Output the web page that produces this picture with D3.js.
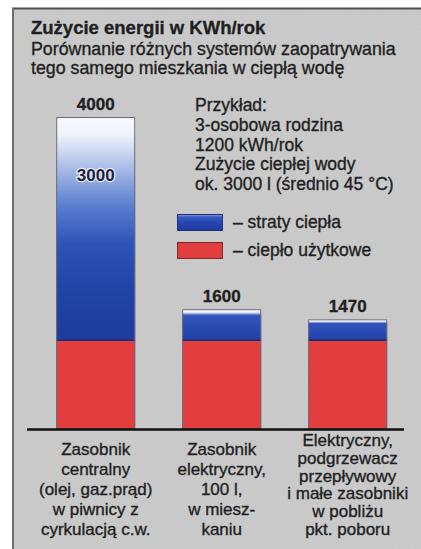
<!DOCTYPE html>
<html><head><meta charset="utf-8">
<script src="https://cdn.jsdelivr.net/npm/d3@7"></script>
<style>html,body{margin:0;padding:0;background:#fff;} svg{display:block}</style>
</head><body><svg id="c" width="421" height="549"></svg>
<script>
// ---- data ----
const categories = ["Zasobnik centralny", "Zasobnik elektryczny", "Elektryczny, podgrzewacz"];
const categoryLines = [
  ["Zasobnik", "centralny", "(olej, gaz.prąd)", "w piwnicy z", "cyrkulacją c.w."],
  ["Zasobnik", "elektryczny,", "100 l,", "w miesz-", "kaniu"],
  ["Elektryczny,", "podgrzewacz", "przepływowy", "i małe zasobniki", "w pobliżu", "pkt. poboru"]
];
const usefulHeat = [1200, 1200, 1200];   // ciepło użytkowe
const heatLoss = [2800, 400, 270];       // straty ciepła
const totalLabels = ["4000", "1600", "1470"];
const innerLabel = "3000";
const title = "Zużycie energii w KWh/rok";
const subtitle = ["Porównanie różnych systemów zaopatrywania", "tego samego mieszkania w ciepłą wodę"];
const exampleLines = ["Przykład:", "3-osobowa rodzina", "1200 kWh/rok", "Zużycie ciepłej wody", "ok. 3000 l (średnio 45 °C)"];
const legendLabels = ["– straty ciepła", "– ciepło użytkowe"];

// ---- setup ----
const FONT = "'Liberation Sans', Arial, Helvetica, sans-serif";
const TXT = "#1f1f22";
const svg = d3.select("#c");
const defs = svg.append("defs");

const gMain = defs.append("linearGradient").attr("id", "gMain").attr("x1", 0).attr("y1", 0).attr("x2", 0).attr("y2", 1);
[[0, "#f7f8fc"], [0.08, "#eef2fa"], [0.24, "#a3b8e3"], [0.4, "#5a7ecf"], [0.57, "#2d52b8"], [0.76, "#2145a8"], [1, "#1d3c9d"]]
  .forEach(([o, c]) => gMain.append("stop").attr("offset", o).attr("stop-color", c));
const gSmall = defs.append("linearGradient").attr("id", "gSmall").attr("x1", 0).attr("y1", 0).attr("x2", 0).attr("y2", 1);
[[0, "#f6f7fb"], [0.1, "#eef1f8"], [0.2, "#3356bd"], [0.6, "#2749b2"], [1, "#213fa4"]]
  .forEach(([o, c]) => gSmall.append("stop").attr("offset", o).attr("stop-color", c));
const gLeg = defs.append("linearGradient").attr("id", "gLeg").attr("x1", 0).attr("y1", 0).attr("x2", 0).attr("y2", 1);
[[0, "#8fa6e0"], [0.15, "#3a5cc4"], [0.5, "#2446b0"], [1, "#1e3c9e"]]
  .forEach(([o, c]) => gLeg.append("stop").attr("offset", o).attr("stop-color", c));

const f = defs.append("filter").attr("id", "noise").attr("x", 0).attr("y", 0).attr("width", "100%").attr("height", "100%");
f.append("feTurbulence").attr("type", "fractalNoise").attr("baseFrequency", 0.85).attr("numOctaves", 2).attr("seed", 4);
f.append("feColorMatrix").attr("type", "matrix")
  .attr("values", "0 0 0 0 0.5  0 0 0 0 0.5  0 0 0 0 0.5  1.2 -0.6 0 0 -0.1");

// background panel
svg.append("rect").attr("x", 12).attr("y", 8).attr("width", 409).attr("height", 541).attr("fill", "#cacacb");
svg.append("rect").attr("x", 12).attr("y", 8).attr("width", 409).attr("height", 541).attr("filter", "url(#noise)").attr("opacity", 0.3);
svg.append("line").attr("x1", 12).attr("x2", 421).attr("y1", 8.5).attr("y2", 8.5).attr("stroke", "#4c4c50").attr("stroke-width", 2);
svg.append("line").attr("x1", 13).attr("x2", 13).attr("y1", 8).attr("y2", 549).attr("stroke", "#6e6e72").attr("stroke-width", 2);

// scales
const x = d3.scaleBand().domain(categories).range([31, 412.4]).paddingInner(0.373).paddingOuter(0.2);
const y = d3.scalePow().exponent(1.05).domain([0, 4000]).range([428, 117]);

const data = categories.map((c, i) => ({
  cat: c, useful: usefulHeat[i], loss: heatLoss[i], total: usefulHeat[i] + heatLoss[i], label: totalLabels[i], i
}));

// bars
const bars = svg.append("g");
bars.selectAll("rect.red").data(data).join("rect")
  .attr("x", d => x(d.cat)).attr("width", x.bandwidth())
  .attr("y", d => y(d.useful)).attr("height", d => y(0) - y(d.useful))
  .attr("fill", "#e33e3e");
bars.selectAll("rect.blue").data(data).join("rect")
  .attr("x", d => x(d.cat)).attr("width", x.bandwidth())
  .attr("y", d => y(d.total)).attr("height", d => y(d.useful) - y(d.total))
  .attr("fill", d => d.i === 0 ? "url(#gMain)" : "url(#gSmall)");
bars.selectAll("line.sep").data(data).join("line")
  .attr("x1", d => x(d.cat)).attr("x2", d => x(d.cat) + x.bandwidth())
  .attr("y1", d => y(d.useful)).attr("y2", d => y(d.useful))
  .attr("stroke", "#1c2a72").attr("stroke-width", 1.5);
bars.selectAll("rect.outline").data(data).join("rect")
  .attr("x", d => x(d.cat) + 0.5).attr("width", x.bandwidth() - 1)
  .attr("y", d => y(d.total) + 0.5).attr("height", d => y(0) - y(d.total))
  .attr("fill", "none").attr("stroke", "#6a6a78").attr("stroke-width", 1);

// axis baseline
svg.append("line").attr("x1", 27).attr("x2", 404).attr("y1", y(0) + 1.5).attr("y2", y(0) + 1.5)
  .attr("stroke", "#111").attr("stroke-width", 2.6);

// helper for "scan-weight" text
function ink(sel) {
  return sel.attr("font-family", FONT).attr("fill", TXT)
    .attr("stroke", TXT).attr("stroke-width", 0.35).attr("stroke-linejoin", "round");
}

// total labels
ink(svg.selectAll("text.tot").data(data).join("text"))
  .attr("x", d => x(d.cat) + x.bandwidth() / 2).attr("y", d => y(d.total) - 7)
  .attr("text-anchor", "middle").attr("font-weight", "bold")
  .attr("font-size", 17).text(d => d.label);

// inner label in first bar
svg.append("text")
  .attr("x", x(categories[0]) + x.bandwidth() / 2).attr("y", y(data[0].total) + 64)
  .attr("text-anchor", "middle").attr("font-family", FONT).attr("font-weight", "bold")
  .attr("font-size", 17).attr("fill", "#1b1d3a")
  .attr("stroke", "#ffffff").attr("stroke-width", 2.5).attr("stroke-opacity", 0.75)
  .attr("paint-order", "stroke").text(innerLabel);

// category labels
data.forEach((d, i) => {
  const lines = categoryLines[i];
  const lh = lines.length > 5 ? 17.8 : 20;
  ink(svg.append("g").selectAll("text").data(lines).join("text"))
    .attr("x", x(d.cat) + x.bandwidth() / 2)
    .attr("y", (t, k) => 535 - (lines.length - 1 - k) * lh)
    .attr("text-anchor", "middle").attr("font-size", 17)
    .text(t => t);
});

// title + subtitle
ink(svg.append("text")).attr("x", 31).attr("y", 34).attr("font-weight", "bold")
  .attr("font-size", 18.5).text(title);
ink(svg.append("g").selectAll("text").data(subtitle).join("text"))
  .attr("x", 31).attr("y", (t, k) => 55 + k * 18.5)
  .attr("font-size", 17.8).text(t => t);

// example text
ink(svg.append("g").selectAll("text").data(exampleLines).join("text"))
  .attr("x", 195).attr("y", (t, k) => 111 + k * 19.8)
  .attr("font-size", 17.5).text(t => t);

// legend
const legFills = ["url(#gLeg)", "#e33e3e"];
const leg = svg.append("g");
legendLabels.forEach((t, k) => {
  leg.append("rect").attr("x", 177.5).attr("y", 214.5 + k * 28).attr("width", 45).attr("height", 16)
    .attr("fill", legFills[k]).attr("stroke", k === 0 ? "#1c2d7a" : "#7a2a2a").attr("stroke-width", 1);
  ink(leg.append("text")).attr("x", 233).attr("y", 228 + k * 28)
    .attr("font-size", 17.5).text(t);
});
</script>
</body></html>
